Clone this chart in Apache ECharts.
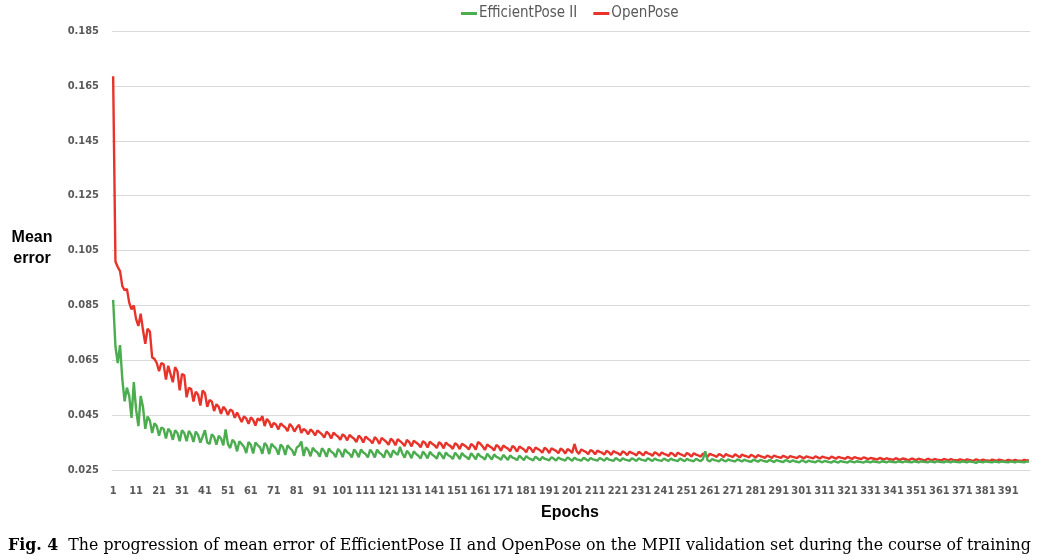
<!DOCTYPE html>
<html><head><meta charset="utf-8">
<script src="https://cdn.jsdelivr.net/npm/echarts@6/dist/echarts.min.js"></script>
<style>html,body{margin:0;padding:0;background:#fff}#c{width:1043px;height:560px}</style>
</head><body><div id="c"></div>
<script>
const epochs = Array.from({length: 400}, (_, i) => String(i + 1));
const seriesNames = ['EfficientPose II', 'OpenPose'];
const yTicks = [0.025, 0.045, 0.065, 0.085, 0.105, 0.125, 0.145, 0.165, 0.185];
const captionBold = 'Fig. 4';
const captionText = 'The progression of mean error of EfficientPose II and OpenPose on the MPII validation set during the course of training';

const efficientPose = [
0.0870,0.0700,0.0640,0.0705,0.0580,0.0500,0.0550,0.0520,0.0440,0.0570,
0.0470,0.0410,0.0520,0.0480,0.0400,0.0445,0.0430,0.0385,0.0420,0.0410,
0.0375,0.0405,0.0400,0.0365,0.0400,0.0390,0.0360,0.0395,0.0385,0.0355,
0.0395,0.0385,0.0355,0.0392,0.0380,0.0352,0.0390,0.0378,0.0350,0.0372,
0.0395,0.0350,0.0345,0.0380,0.0370,0.0342,0.0375,0.0365,0.0340,0.0398,
0.0345,0.0330,0.0360,0.0350,0.0318,0.0355,0.0345,0.0335,0.0312,0.0352,
0.0342,0.0310,0.0350,0.0340,0.0333,0.0309,0.0348,0.0338,0.0308,0.0346,
0.0336,0.0328,0.0306,0.0343,0.0333,0.0305,0.0340,0.0330,0.0322,0.0303,
0.0332,0.0338,0.0354,0.0301,0.0333,0.0323,0.0300,0.0331,0.0320,0.0314,
0.0299,0.0329,0.0318,0.0298,0.0328,0.0317,0.0311,0.0297,0.0327,0.0316,
0.0297,0.0326,0.0315,0.0309,0.0296,0.0325,0.0314,0.0297,0.0325,0.0314,
0.0308,0.0296,0.0324,0.0313,0.0296,0.0324,0.0313,0.0307,0.0295,0.0323,
0.0312,0.0296,0.0322,0.0312,0.0305,0.0334,0.0310,0.0295,0.0320,0.0310,
0.0293,0.0318,0.0308,0.0302,0.0292,0.0317,0.0307,0.0292,0.0316,0.0306,
0.0300,0.0291,0.0315,0.0305,0.0291,0.0314,0.0304,0.0299,0.0290,0.0313,
0.0303,0.0290,0.0312,0.0302,0.0297,0.0289,0.0311,0.0301,0.0289,0.0310,
0.0300,0.0296,0.0288,0.0309,0.0299,0.0288,0.0307,0.0298,0.0294,0.0287,
0.0305,0.0296,0.0287,0.0303,0.0295,0.0292,0.0286,0.0302,0.0294,0.0286,
0.0301,0.0293,0.0290,0.0285,0.0299,0.0292,0.0285,0.0298,0.0291,0.0289,
0.0285,0.0297,0.0291,0.0284,0.0296,0.0290,0.0288,0.0284,0.0296,0.0290,
0.0284,0.0295,0.0289,0.0287,0.0284,0.0295,0.0289,0.0284,0.0294,0.0289,
0.0287,0.0284,0.0294,0.0289,0.0284,0.0294,0.0288,0.0286,0.0283,0.0294,
0.0288,0.0283,0.0293,0.0288,0.0286,0.0283,0.0293,0.0288,0.0283,0.0293,
0.0288,0.0286,0.0283,0.0293,0.0287,0.0283,0.0292,0.0287,0.0285,0.0283,
0.0292,0.0287,0.0283,0.0292,0.0287,0.0285,0.0282,0.0292,0.0287,0.0282,
0.0291,0.0286,0.0284,0.0282,0.0291,0.0286,0.0282,0.0290,0.0318,0.0286,
0.0281,0.0290,0.0286,0.0284,0.0281,0.0290,0.0285,0.0281,0.0289,0.0285,
0.0283,0.0281,0.0289,0.0285,0.0281,0.0288,0.0284,0.0282,0.0280,0.0288,
0.0284,0.0280,0.0287,0.0284,0.0282,0.0280,0.0287,0.0283,0.0279,0.0286,
0.0283,0.0281,0.0279,0.0286,0.0283,0.0279,0.0285,0.0282,0.0280,0.0278,
0.0285,0.0282,0.0278,0.0284,0.0281,0.0280,0.0278,0.0284,0.0281,0.0278,
0.0283,0.0281,0.0279,0.0277,0.0283,0.0280,0.0277,0.0283,0.0280,0.0279,
0.0277,0.0283,0.0280,0.0278,0.0282,0.0280,0.0279,0.0277,0.0282,0.0280,
0.0278,0.0282,0.0280,0.0279,0.0277,0.0282,0.0280,0.0278,0.0282,0.0280,
0.0279,0.0278,0.0282,0.0280,0.0278,0.0282,0.0280,0.0279,0.0278,0.0282,
0.0280,0.0278,0.0282,0.0280,0.0279,0.0278,0.0282,0.0280,0.0278,0.0282,
0.0280,0.0279,0.0278,0.0282,0.0280,0.0278,0.0282,0.0280,0.0279,0.0278,
0.0282,0.0280,0.0278,0.0282,0.0280,0.0279,0.0276,0.0281,0.0280,0.0278,
0.0281,0.0280,0.0279,0.0278,0.0281,0.0280,0.0278,0.0281,0.0280,0.0279,
0.0278,0.0281,0.0280,0.0278,0.0281,0.0280,0.0279,0.0278,0.0281,0.0280
];

const openPose = [
0.1685,0.1010,0.0990,0.0975,0.0920,0.0905,0.0910,0.0860,0.0835,0.0850,
0.0800,0.0775,0.0820,0.0760,0.0710,0.0765,0.0755,0.0660,0.0655,0.0640,
0.0610,0.0640,0.0635,0.0580,0.0630,0.0600,0.0570,0.0625,0.0610,0.0540,
0.0600,0.0595,0.0515,0.0550,0.0545,0.0500,0.0535,0.0525,0.0485,0.0540,
0.0530,0.0480,0.0505,0.0500,0.0465,0.0490,0.0480,0.0455,0.0480,0.0470,
0.0450,0.0470,0.0465,0.0440,0.0460,0.0442,0.0425,0.0445,0.0438,0.0418,
0.0442,0.0432,0.0412,0.0438,0.0430,0.0447,0.0410,0.0436,0.0426,0.0405,
0.0422,0.0415,0.0398,0.0420,0.0412,0.0405,0.0392,0.0418,0.0408,0.0390,
0.0405,0.0415,0.0385,0.0400,0.0393,0.0380,0.0398,0.0390,0.0376,0.0394,
0.0387,0.0380,0.0368,0.0390,0.0382,0.0365,0.0386,0.0378,0.0372,0.0360,
0.0380,0.0373,0.0358,0.0378,0.0370,0.0364,0.0352,0.0375,0.0367,0.0350,
0.0372,0.0364,0.0358,0.0347,0.0370,0.0361,0.0345,0.0367,0.0360,0.0353,
0.0342,0.0364,0.0356,0.0340,0.0362,0.0355,0.0348,0.0337,0.0360,0.0352,
0.0336,0.0357,0.0350,0.0344,0.0333,0.0355,0.0348,0.0332,0.0353,0.0346,
0.0340,0.0330,0.0351,0.0344,0.0329,0.0350,0.0342,0.0337,0.0327,0.0348,
0.0341,0.0326,0.0346,0.0340,0.0334,0.0325,0.0345,0.0338,0.0324,0.0352,
0.0346,0.0336,0.0323,0.0343,0.0336,0.0331,0.0321,0.0341,0.0335,0.0320,
0.0339,0.0333,0.0328,0.0318,0.0338,0.0331,0.0317,0.0336,0.0330,0.0325,
0.0315,0.0334,0.0328,0.0314,0.0332,0.0327,0.0322,0.0313,0.0331,0.0325,
0.0312,0.0329,0.0324,0.0320,0.0311,0.0328,0.0322,0.0310,0.0326,0.0321,
0.0312,0.0345,0.0318,0.0309,0.0325,0.0320,0.0316,0.0308,0.0323,0.0318,
0.0307,0.0321,0.0316,0.0313,0.0306,0.0320,0.0315,0.0305,0.0319,0.0314,
0.0311,0.0304,0.0318,0.0313,0.0304,0.0317,0.0312,0.0309,0.0303,0.0316,
0.0311,0.0303,0.0316,0.0311,0.0308,0.0302,0.0315,0.0310,0.0302,0.0314,
0.0309,0.0306,0.0301,0.0313,0.0308,0.0300,0.0313,0.0308,0.0305,0.0300,
0.0312,0.0307,0.0299,0.0311,0.0306,0.0303,0.0299,0.0310,0.0305,0.0298,
0.0309,0.0305,0.0302,0.0298,0.0308,0.0304,0.0297,0.0308,0.0303,0.0301,
0.0297,0.0307,0.0302,0.0296,0.0306,0.0302,0.0300,0.0296,0.0305,0.0301,
0.0295,0.0304,0.0300,0.0298,0.0294,0.0303,0.0299,0.0294,0.0303,0.0299,
0.0297,0.0294,0.0302,0.0298,0.0293,0.0301,0.0298,0.0296,0.0293,0.0301,
0.0297,0.0292,0.0300,0.0297,0.0295,0.0292,0.0300,0.0296,0.0292,0.0299,
0.0296,0.0294,0.0291,0.0299,0.0295,0.0291,0.0298,0.0295,0.0293,0.0291,
0.0298,0.0294,0.0290,0.0297,0.0294,0.0292,0.0290,0.0296,0.0293,0.0289,
0.0294,0.0292,0.0290,0.0288,0.0294,0.0291,0.0288,0.0293,0.0290,0.0289,
0.0287,0.0293,0.0290,0.0287,0.0292,0.0290,0.0288,0.0287,0.0292,0.0289,
0.0286,0.0291,0.0289,0.0287,0.0286,0.0291,0.0288,0.0286,0.0290,0.0288,
0.0287,0.0285,0.0290,0.0288,0.0285,0.0290,0.0287,0.0286,0.0285,0.0289,
0.0287,0.0284,0.0289,0.0287,0.0285,0.0284,0.0289,0.0286,0.0284,0.0288,
0.0286,0.0285,0.0283,0.0288,0.0286,0.0283,0.0288,0.0286,0.0284,0.0283,
0.0287,0.0285,0.0283,0.0287,0.0285,0.0284,0.0283,0.0287,0.0285,0.0286
];

const colors = ['#4cac50', '#e8332b'];

// fit caption to the reference text width
const captionFamily = '"DejaVu Serif", "Liberation Serif", serif';
const mctx = document.createElement('canvas').getContext('2d');
mctx.font = 'bold 100px ' + captionFamily;
let wBold = mctx.measureText(captionBold + '  ').width;
mctx.font = '100px ' + captionFamily;
let wRest = mctx.measureText(captionText).width;
const capSize = Math.floor(100 * 1025 / (wBold + wRest) * 10) / 10;

const chart = echarts.init(document.getElementById('c'), null, {renderer: 'canvas'});
chart.setOption({
  animation: false,
  backgroundColor: '#ffffff',
  color: colors,
  legend: {
    top: 1, left: 456,
    itemWidth: 16, itemHeight: 3, itemGap: 16,
    icon: 'rect',
    textStyle: {color: '#595959', fontSize: 15, padding: [0, 0, 0, -3], fontFamily: 'Liberation Sans Narrow, DejaVu Sans Condensed, sans-serif'},
    data: seriesNames
  },
  grid: {left: 112, right: 13, top: 31, bottom: 90, containLabel: false},
  xAxis: {
    type: 'category', data: epochs, boundaryGap: true,
    axisLine: {lineStyle: {color: '#d9d9d9', width: 1}},
    axisTick: {show: false},
    axisLabel: {interval: 9, color: '#595959', fontSize: 11, fontWeight: 'bold', margin: 16,
      fontFamily: 'Liberation Sans Narrow, DejaVu Sans Condensed, sans-serif'}
  },
  yAxis: {
    type: 'value', min: yTicks[0], max: yTicks[yTicks.length - 1], interval: 0.02,
    axisLine: {show: false}, axisTick: {show: false},
    splitLine: {lineStyle: {color: '#d9d9d9', width: 1}},
    axisLabel: {color: '#595959', fontSize: 11, fontWeight: 'bold', margin: 13,
      fontFamily: 'Liberation Sans Narrow, DejaVu Sans Condensed, sans-serif',
      formatter: v => v.toFixed(3)}
  },
  graphic: [
    {type: 'text', x: 32, y: 248, style: {text: 'Mean\nerror', font: 'bold 16px "Liberation Sans", Arial, sans-serif', fill: '#000', lineHeight: 21, textAlign: 'center', textVerticalAlign: 'middle'}},
    {type: 'text', x: 570, y: 513, style: {text: 'Epochs', font: 'bold 16px "Liberation Sans", Arial, sans-serif', fill: '#000', textAlign: 'center', textVerticalAlign: 'middle'}},
    {type: 'text', x: 8, y: 546, style: {
      text: '{b|' + captionBold + '}  ' + captionText,
      font: capSize + 'px ' + captionFamily, fill: '#000', textVerticalAlign: 'middle',
      rich: {b: {font: 'bold ' + capSize + 'px ' + captionFamily, fill: '#000'}}
    }}
  ],
  series: [
    {name: seriesNames[0], type: 'line', data: efficientPose, showSymbol: false, symbol: 'none', lineStyle: {width: 2.4, color: colors[0]}, z: 3},
    {name: seriesNames[1], type: 'line', data: openPose, showSymbol: false, symbol: 'none', lineStyle: {width: 2.4, color: colors[1]}, z: 2}
  ]
});
</script></body></html>
